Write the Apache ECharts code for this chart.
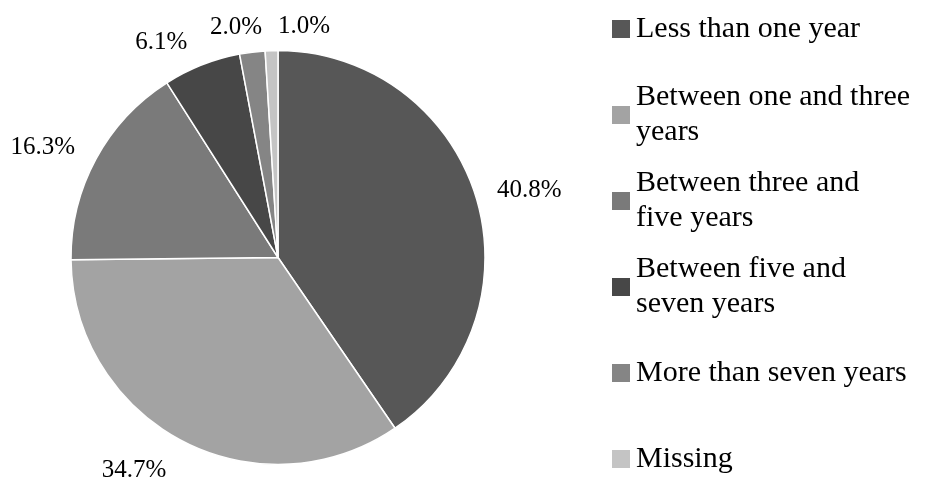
<!DOCTYPE html>
<html>
<head>
<meta charset="utf-8">
<script src="https://cdn.jsdelivr.net/npm/echarts@6/dist/echarts.min.js"></script>
<style>
  html, body { margin: 0; padding: 0; background: #fff; }
  #chart { width: 931px; height: 480px; }
</style>
</head>
<body>
<div id="chart"></div>
<script>
// 类别、数值、颜色
const categories = [
  "Less than one year",
  "Between one and three years",
  "Between three and five years",
  "Between five and seven years",
  "More than seven years",
  "Missing",
];
const legendText = [
  "Less than one year",
  "Between one and three\nyears",
  "Between three and\nfive years",
  "Between five and\nseven years",
  "More than seven years",
  "Missing",
];
const values = [40.8, 34.7, 16.3, 6.1, 2.0, 1.0];
const colors = ["#575757", "#a3a3a3", "#7a7a7a", "#474747", "#858585", "#c4c4c4"];

const FONT = "'Liberation Serif', 'Times New Roman', serif";
const LH = 35;

// 标签微调（仿Excel的避让）
const labelNudge = [
  [-1, 0],
  [-3, 13],
  [0, -3],
  [-3, -6],
  [17, -7],
  [64, -6],
];

const chart = echarts.init(document.getElementById("chart"));

//图例：首行与图标对齐，统一高度
const legendData = categories.map((name, i) => {
  const lines = legendText[i].split("\n").length;
  return {
    name,
    textStyle: {
      padding: lines > 1 ? [LH, 0, 0, 0] : [LH, 0, LH, 0],
    },
  };
});

chart.setOption({
  animation: false,
  color: colors,
  legend: {
    orient: "vertical",
    left: 610,
    top: 29 - LH * 1.5,
    height: 560,
    padding: 0,
    itemWidth: 20,
    itemHeight: 20,
    itemGap: 86 - LH * 3,
    icon: "rect",
    selectedMode: false,
    data: legendData,
    formatter: (name) => legendText[categories.indexOf(name)],
    textStyle: {
      fontFamily: FONT,
      fontSize: 30,
      lineHeight: LH,
      color: "#000",
    },
  },
  series: [
    {
      type: "pie",
      center: [278, 257.5],
      radius: 207,
      startAngle: 90,
      clockwise: true,
      data: categories.map((name, i) => ({ name, value: values[i] })),
      itemStyle: {
        borderColor: "#fff",
        borderWidth: 1.5,
      },
      label: {
        show: true,
        position: "outside",
        formatter: (p) => p.value.toFixed(1) + "%",
        fontFamily: FONT,
        fontSize: 25,
        color: "#000",
      },
      labelLine: {
        show: false,
        length: 18,
        length2: 0,
      },
      labelLayout: (p) => ({
        hideOverlap: false,
        dx: labelNudge[p.dataIndex][0],
        dy: labelNudge[p.dataIndex][1],
      }),
      avoidLabelOverlap: false,
      emphasis: { disabled: true },
    },
  ],
});
</script>
</body>
</html>
